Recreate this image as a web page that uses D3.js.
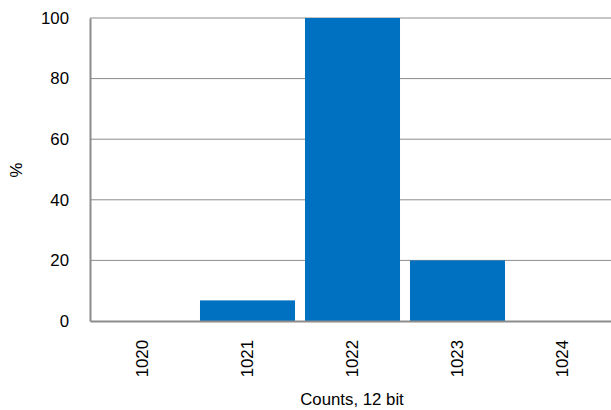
<!DOCTYPE html>
<html>
<head>
<meta charset="utf-8">
<script src="https://cdn.jsdelivr.net/npm/d3@7"></script>
<style>
  body { margin: 0; background: #fff; }
  text { font-family: "Liberation Sans", Arial, sans-serif; fill: #000; }
</style>
</head>
<body>
<script>
// data
var categories = ["1020", "1021", "1022", "1023", "1024"];
var percents = [0, 6.8, 100, 20, 0];
var yTicks = [0, 20, 40, 60, 80, 100];

var W = 611, H = 410;
var margin = {top: 18, left: 90, bottom: 89},
    plotW = 525,
    plotH = H - margin.top - margin.bottom;
var fs = "16.8px";

var svg = d3.select("body").append("svg")
    .attr("width", W)
    .attr("height", H);

var g = svg.append("g")
    .attr("transform", "translate(" + margin.left + "," + margin.top + ")");

var x = d3.scaleBand()
    .domain(categories)
    .range([0, plotW])
    .paddingInner(0.095)
    .paddingOuter(0.0475);

var y = d3.scaleLinear()
    .domain([0, 100])
    .range([plotH, 0]);

// gridlines
g.selectAll(".grid")
    .data(yTicks.slice(1))
    .enter().append("line")
    .attr("x1", 0).attr("x2", plotW)
    .attr("y1", d => y(d)).attr("y2", d => y(d))
    .attr("stroke", "#8c8c8c")
    .attr("stroke-width", 1);

// bars
g.selectAll(".bar")
    .data(categories.map((c, i) => ({cat: c, v: percents[i]})))
    .enter().append("rect")
    .attr("x", d => x(d.cat))
    .attr("width", x.bandwidth())
    .attr("y", d => y(d.v))
    .attr("height", d => plotH - y(d.v))
    .attr("fill", "#0070c0");

// y axis
var yAxis = g.append("g")
    .call(d3.axisLeft(y).tickValues(yTicks).tickSize(0).tickPadding(21));
yAxis.select(".domain").attr("stroke", "#8c8c8c").attr("stroke-width", 2);
yAxis.selectAll("text").style("font-size", fs).attr("font-family", null);

// x axis
var xAxis = g.append("g")
    .attr("transform", "translate(0," + plotH + ")")
    .call(d3.axisBottom(x).tickSize(0).tickSizeOuter(0));
xAxis.select(".domain").attr("stroke", "#8c8c8c").attr("stroke-width", 2);
xAxis.selectAll("text")
    .style("font-size", fs)
    .attr("font-family", null)
    .attr("transform", "rotate(-90)")
    .attr("x", -19)
    .attr("y", 0)
    .attr("dy", "0.35em")
    .style("text-anchor", "end");

// axis titles
svg.append("text")
    .attr("x", 352)
    .attr("y", 405)
    .attr("text-anchor", "middle")
    .style("font-size", fs)
    .text("Counts, 12 bit");

svg.append("text")
    .attr("transform", "translate(22,170) rotate(-90)")
    .attr("text-anchor", "middle")
    .style("font-size", fs)
    .text("%");
</script>
</body>
</html>
